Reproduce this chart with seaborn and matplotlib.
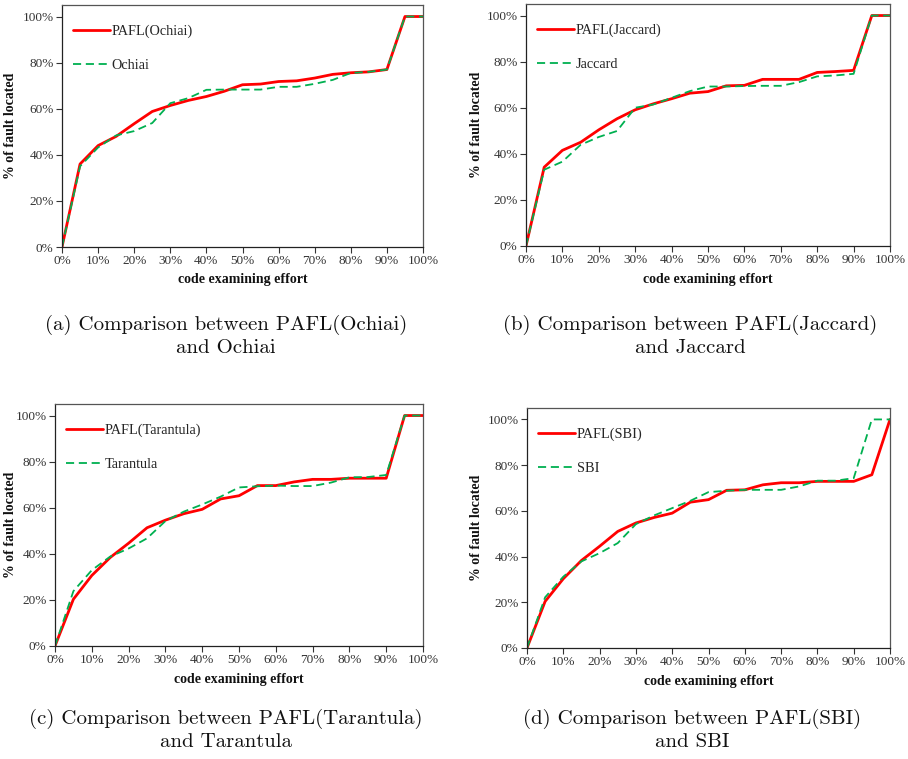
import numpy as np
import pandas as pd
import matplotlib
matplotlib.use("Agg")
import matplotlib.pyplot as plt
import seaborn as sns

# Share of faults located (%) against code examining effort (%), 0..100 in 5% steps
effort = list(range(0, 101, 5))

pafl_ochiai = [0, 36, 44, 48, 53.5, 58.8, 61.4, 63.6, 65.3, 67.6, 70.4, 70.7,
               71.8, 72.1, 73.3, 74.9, 75.6, 76, 77, 100, 100]
ochiai = [0, 35, 43.2, 48.4, 50.3, 53.8, 62.4, 64.6, 68.2, 68.3, 68.3, 68.3,
          69.5, 69.5, 70.8, 72.5, 75.5, 76, 77, 100, 100]

pafl_jaccard = [0, 34.2, 41.5, 45, 50.4, 55.2, 59.1, 61.7, 63.9, 66.3, 67, 69.5,
                69.7, 72.3, 72.3, 72.3, 75.3, 75.7, 76.2, 100, 100]
jaccard = [0, 33.1, 36.6, 43.9, 47.3, 49.9, 60, 61.4, 64.3, 67.2, 69.2, 69.2,
           69.4, 69.5, 69.5, 71.1, 73.6, 74, 74.7, 100, 100]

pafl_tarantula = [0, 20.3, 30.6, 38.4, 44.6, 51.3, 54.6, 57.4, 59.3, 63.8, 65.2,
                  69.6, 69.6, 71.2, 72.3, 72.3, 72.8, 72.8, 72.8, 100, 100]
tarantula = [0, 23.8, 32.9, 38.8, 42.3, 46.7, 54.2, 58.3, 61.4, 64.8, 68.8,
             69.3, 69.6, 69.4, 69.4, 70.9, 73.2, 73.3, 74.2, 100, 100]

pafl_sbi = [0, 20.4, 30.3, 38.3, 44.5, 51, 54.7, 57.1, 59, 63.8, 64.9, 69,
            69.2, 71.4, 72.3, 72.3, 72.9, 72.9, 72.9, 75.8, 100]
sbi = [0, 22.2, 31.2, 37.9, 41.5, 45.9, 54.2, 58, 61.2, 64.4, 68.2, 68.8,
       69.2, 69.2, 69.2, 70.7, 73.2, 73.2, 74.3, 100, 100]

panel_names = ["Ochiai", "Jaccard", "Tarantula", "SBI"]
panel_tags = ["(a)", "(b)", "(c)", "(d)"]
panel_series = [(pafl_ochiai, ochiai), (pafl_jaccard, jaccard),
                (pafl_tarantula, tarantula), (pafl_sbi, sbi)]

x_ticks = list(range(0, 101, 10))
y_ticks = list(range(0, 101, 20))

sns.set_style("white")
plt.rcParams["font.family"] = ["Liberation Serif", "DejaVu Serif"]

W, H = 908, 759
fig = plt.figure(figsize=(W / 100, H / 100), dpi=100)

# axes boxes in pixels: left, top, right, bottom
boxes = [(62, 5, 423, 247), (526, 4, 890, 246),
         (55, 404, 423, 646), (527, 408, 890, 648)]
ylabel_x = [11, 477, 11, 477]
caption_top = [(226, 315), (690, 315), (226, 709), (692, 709)]

RED = "#FF0000"
GREEN = "#00B050"

for i, name in enumerate(panel_names):
    l, t, r, b = boxes[i]
    ax_w, ax_h = r - l, b - t
    ax = fig.add_axes([l / W, 1 - b / H, ax_w / W, ax_h / H])
    pafl_vals, base_vals = panel_series[i]
    df = pd.DataFrame({"effort": effort, "pafl": pafl_vals, "base": base_vals})

    sns.lineplot(data=df, x="effort", y="pafl", ax=ax, color=RED, linewidth=2.0,
                 label=f"PAFL({name})")
    sns.lineplot(data=df, x="effort", y="base", ax=ax, color=GREEN, linewidth=1.3,
                 linestyle=(0, (4.5, 2.6)), label=name)

    ax.set_xlim(0, 100)
    ax.set_ylim(0, 105)
    ax.set_xticks(x_ticks)
    ax.set_xticklabels([f"{v}%" for v in x_ticks])
    ax.set_yticks(y_ticks)
    ax.set_yticklabels([f"{v}%" for v in y_ticks])
    ax.tick_params(axis="both", direction="out", length=4, width=0.8,
                   colors="#333333", labelsize=9.5, pad=2,
                   bottom=True, left=True)
    for s in ["left", "bottom"]:
        ax.spines[s].set_color("#222222")
        ax.spines[s].set_linewidth(0.9)
    for s in ["top", "right"]:
        ax.spines[s].set_color("#555555")
        ax.spines[s].set_linewidth(0.9)

    ax.set_xlabel("code examining effort", fontsize=10, fontweight="bold",
                  color="#111111")
    ax.set_ylabel("% of fault located", fontsize=10, fontweight="bold",
                  color="#111111")
    ax.xaxis.set_label_coords(0.5, -33 / ax_h)
    ax.yaxis.set_label_coords((ylabel_x[i] - l) / ax_w, 0.5)
    ax.xaxis.label.set_va("center")
    ax.yaxis.label.set_va("center")

    ax.legend(loc="upper left", bbox_to_anchor=(0.03, 0.92), frameon=False,
              borderpad=0, borderaxespad=0, handlelength=2.6,
              handletextpad=0.1, labelspacing=1.5, fontsize=10.3)

    cx, cy = caption_top[i]
    fig.text(cx / W, 1 - cy / H,
             f"{panel_tags[i]} Comparison between PAFL({name})\nand {name}",
             ha="center", va="top", fontsize=15, family="cmr10",
             linespacing=1.3, color="#111111")

fig.savefig("out.png", dpi=100)
